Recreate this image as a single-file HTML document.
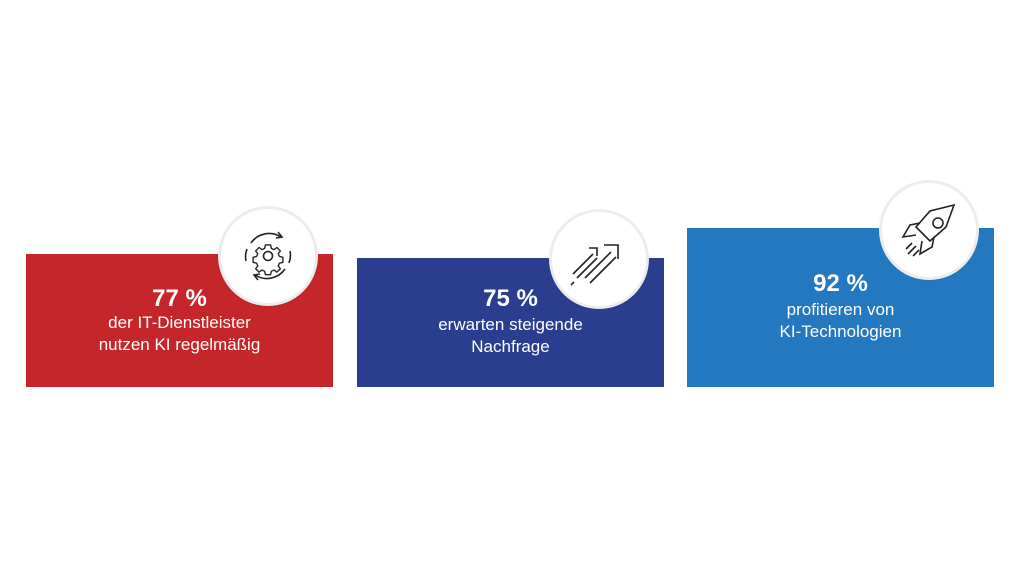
<!DOCTYPE html>
<html><head><meta charset="utf-8"><style>
body{margin:0;width:1021px;height:574px;background:#fff;position:relative;overflow:hidden;font-family:"Liberation Sans",sans-serif}
.box{position:absolute;color:#fff;text-align:center}
.t{position:absolute;left:0;right:0;color:#fff;text-align:center;white-space:nowrap}
.big{font-weight:bold;font-size:24px}
.sm{font-size:17px;line-height:22px}
.c{position:absolute;width:94px;height:94px;border-radius:50%;background:#fff;box-shadow:0 0 0 3px #ececec,0 1px 4px rgba(0,0,0,.15)}
.c svg{position:absolute;left:0;top:0}
</style></head><body>
<div class="box" style="left:26px;top:254px;width:307px;height:133px;background:#c4262a">
<div class="t big" style="top:31px">77 %</div>
<div class="t sm" style="top:58px">der IT-Dienstleister<br>nutzen KI regelmäßig</div>
</div>
<div class="box" style="left:357px;top:258px;width:307px;height:129px;background:#2b3d8f">
<div class="t big" style="top:27px">75 %</div>
<div class="t sm" style="top:56px">erwarten steigende<br>Nachfrage</div>
</div>
<div class="box" style="left:687px;top:228px;width:307px;height:159px;background:#2378c0">
<div class="t big" style="top:42px">92 %</div>
<div class="t sm" style="top:71px">profitieren von<br>KI-Technologien</div>
</div>
<div class="c" style="left:221px;top:209px">
<svg width="94" height="94" viewBox="0 0 94 94" fill="none" stroke="#222" stroke-width="1.6">
<circle cx="47" cy="47" r="4.5"/>
<g transform="translate(47 47)">
<path d="M-3 -13h6l1 4 3 1.5 3.5-2.5 4 4-2.5 3.5 1.5 3 4 1v6l-4 1-1.5 3 2.5 3.5-4 4-3.5-2.5-3 1.5-1 4h-6l-1-4-3-1.5-3.5 2.5-4-4 2.5-3.5-1.5-3-4-1v-6l4-1 1.5-3-2.5-3.5 4-4 3.5 2.5 3-1.5z" transform="scale(0.85)"/>
</g>
<path d="M30 34a22 22 0 0 1 30-6"/><path d="M57 23l4 5-6 1"/>
<path d="M64 60a22 22 0 0 1-30 6"/><path d="M37 71l-4-5 6-1"/>
<path d="M25 52a22 22 0 0 1 1-12"/><path d="M69 42a22 22 0 0 1-1 12"/>
</svg></div>
<div class="c" style="left:552px;top:212px">
<svg width="94" height="94" viewBox="0 0 94 94" fill="none" stroke="#222" stroke-width="1.6">
<path d="M21 62l20-20M25 66l20-20M37 36h8v8"/>
<path d="M33 66l26-26M38 71l26-26M52 33h14v14"/>
<path d="M19 73l3-3"/>
</svg></div>
<div class="c" style="left:882px;top:183px">
<svg width="94" height="94" viewBox="0 0 94 94" fill="none" stroke="#222" stroke-width="1.6">
<path d="M72 22l-24 6-14 16 14 14 16-14z"/>
<circle cx="56" cy="40" r="5"/>
<path d="M38 40l-10 2-7 12 13-2"/><path d="M52 54l-2 10-12 7 2-13"/>
<path d="M30 60l-6 6M34 63l-8 8M37 67l-6 6"/>
</svg></div>
</body></html>
